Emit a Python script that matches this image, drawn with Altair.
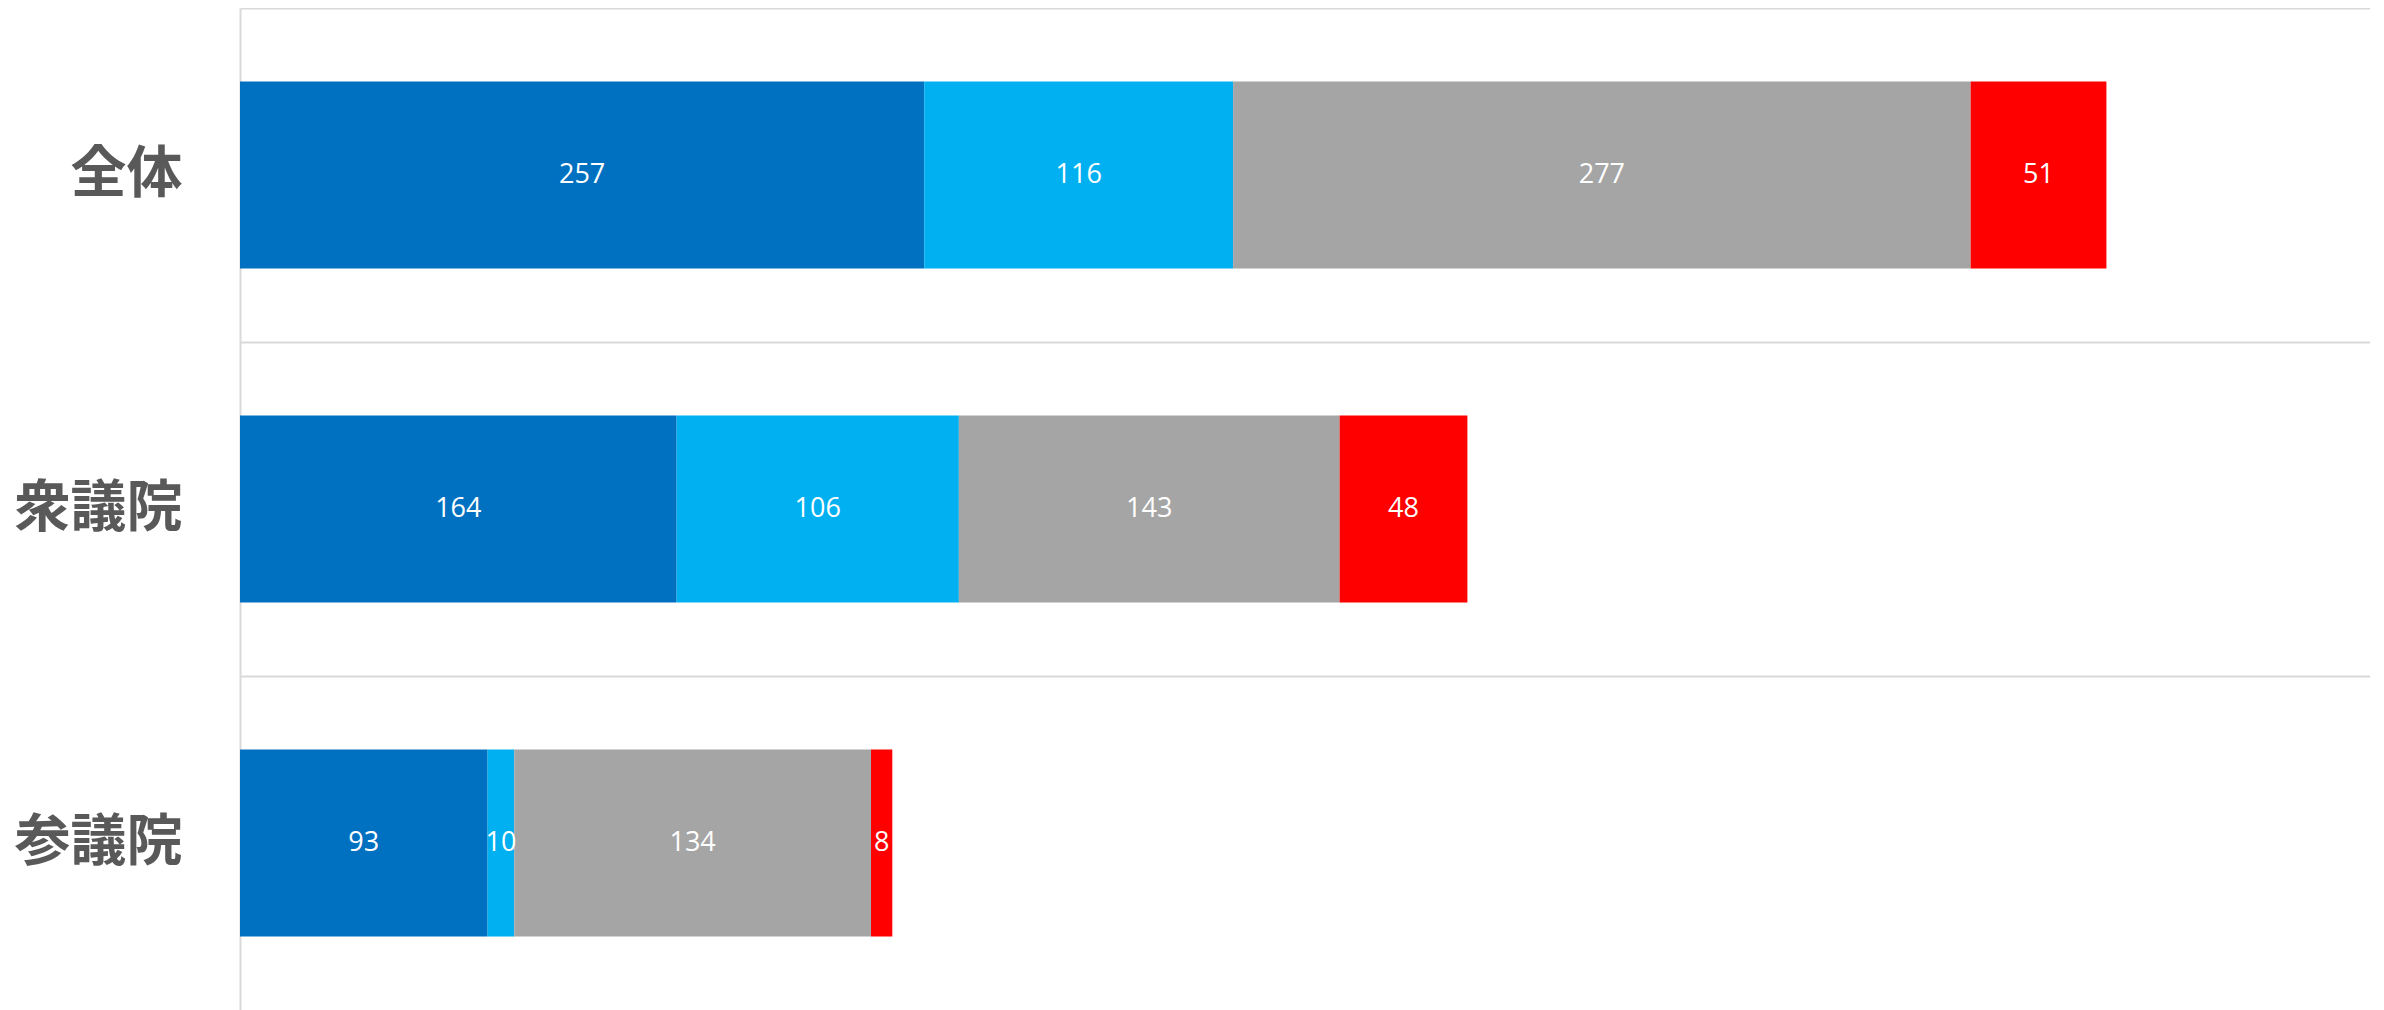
import altair as alt
import pandas as pd

categories = ["全体", "衆議院", "参議院"]
series = ["s1", "s2", "s3", "s4"]
colors = ["#0070C0", "#00B0F0", "#A5A5A5", "#FF0000"]
values_s1 = [257, 164, 93]
values_s2 = [116, 106, 10]
values_s3 = [277, 143, 134]
values_s4 = [51, 48, 8]

rows = []
for i, cat in enumerate(categories):
    for j, (s, vals) in enumerate(zip(series, [values_s1, values_s2, values_s3, values_s4])):
        rows.append({"cat": cat, "series": s, "order": j, "value": vals[i]})
df = pd.DataFrame(rows)

base = alt.Chart(df).transform_stack(
    stack="value", groupby=["cat"], as_=["x0", "x1"],
    sort=[alt.SortField("order", order="ascending")]
).transform_calculate(mid="(datum.x0 + datum.x1) / 2")

yenc = alt.Y("cat:N", sort=categories, title=None,
             scale=alt.Scale(paddingInner=0, paddingOuter=0),
             axis=alt.Axis(grid=True, bandPosition=0, gridColor="#D9D9D9", gridWidth=2,
                           domainColor="#D9D9D9", domainWidth=2, ticks=False,
                           labelFont="Noto Sans CJK JP", labelFontWeight="bold",
                           labelFontSize=56, labelColor="#595959", labelPadding=58,
                           minExtent=232, maxExtent=232))

xscale = alt.Scale(domain=[0, 800], nice=False)

bars = base.mark_bar(height={"band": 0.56}).encode(
    y=yenc,
    x=alt.X("x0:Q", scale=xscale, axis=None),
    x2="x1:Q",
    color=alt.Color("series:N", scale=alt.Scale(domain=series, range=colors), legend=None),
)

labels = base.mark_text(color="white", font="Open Sans", fontSize=27).encode(
    y=alt.Y("cat:N", sort=categories),
    x=alt.X("mid:Q", scale=xscale),
    text="value:Q",
)

chart = alt.layer(bars, labels).properties(
    width=2130, height=1002, padding=0
).configure_view(strokeWidth=0)

chart.save("out.html", embed_options={"renderer": "svg", "actions": False})
